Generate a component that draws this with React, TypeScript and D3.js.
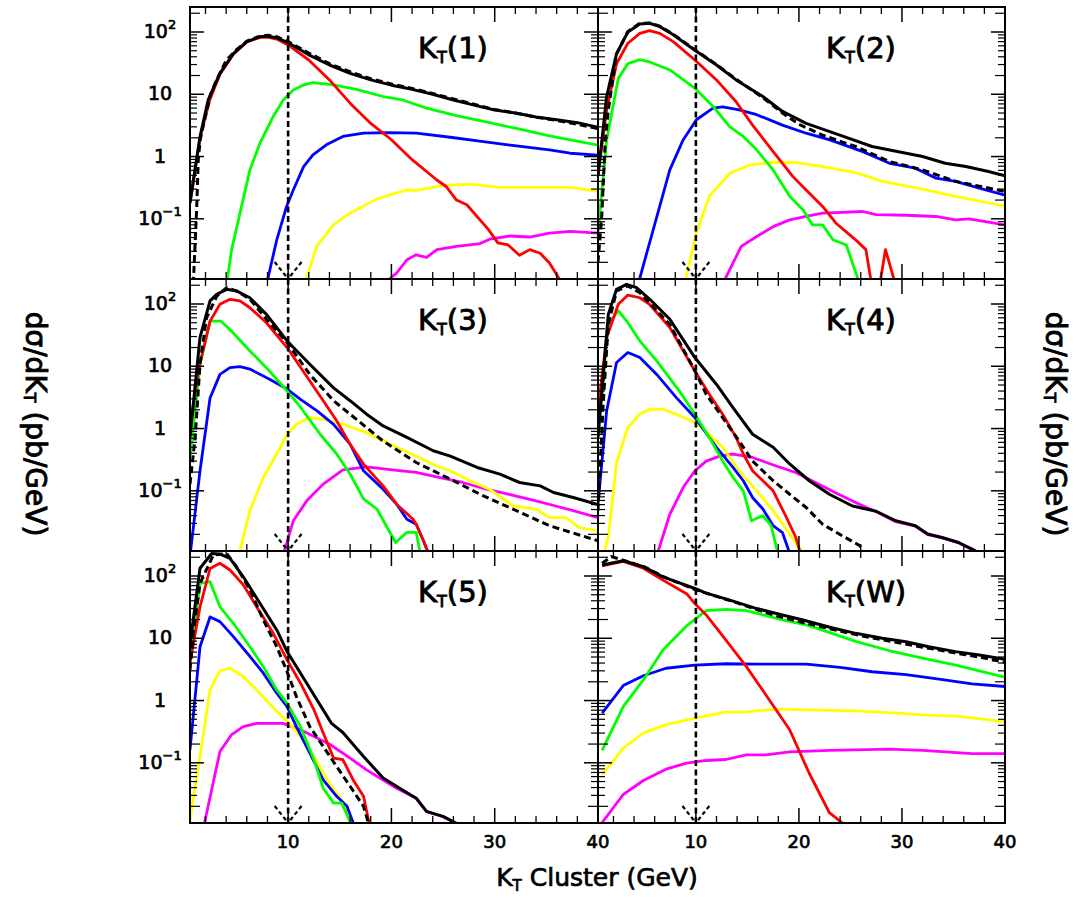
import React from "react";
import * as d3 from "d3";

type Pt = [number, number];

// ---- K_T(1) ----
const kt1Total: Pt[] = [[0.5,0.18],[1.47,2.1],[2.27,8.2],[3.4,21.7],[4.7,45],[6,70],[7.3,84],[7.9,86],[9,80],[10,67],[12,43],[14,29.5],[16,21.7],[18,17],[20,14],[22,12],[24,10],[26,8.1],[28,6.7],[30,5.6],[32,5],[34,4.3],[36,3.9],[38,3.5],[40,2.95]];
const kt1Dashed: Pt[] = [[0.82,0.009],[1.15,0.15],[1.3,0.9],[1.5,1.9],[2,4.5],[2.5,10],[3,16],[4,35],[5,52],[6,71],[7,83],[8,89],[9,83],[10,70],[12,46],[14,31],[16,23],[18,17.8],[20,14.6],[22,12.4],[24,10.3],[26,8.4],[28,6.9],[30,5.7],[32,5],[34,4.3],[36,3.8],[38,3.3],[40,2.8]];
const kt1Red: Pt[] = [[0.5,0.18],[1.47,2.0],[2.4,8],[3.4,21],[4.7,44],[6,69],[7.3,82],[8,83],[9,76],[10,62],[12,35.5],[14,17],[16,7.2],[18,3.4],[20,1.86],[22,0.89],[24.4,0.42],[25.3,0.33],[26.3,0.2],[27.3,0.168],[29.4,0.067],[30.3,0.041],[31.3,0.038],[32.4,0.026],[33.4,0.032],[34.4,0.028],[35.3,0.0195],[36.3,0.0105],[36.8,0.008]];
const kt1Green: Pt[] = [[4.05,0.009],[4.53,0.032],[6.3,0.61],[7.27,1.64],[8.56,4.4],[9.53,8.1],[10.5,11.7],[11.5,14.1],[12.4,15.4],[14.4,14.1],[16.6,12],[19.2,9.2],[21.1,8.1],[23.4,6],[26.4,4.5],[29.5,3.5],[32,2.85],[35.3,2.15],[40,1.52]];
const kt1Blue: Pt[] = [[7.92,0.009],[8.9,0.046],[9.85,0.158],[10.5,0.29],[11.5,0.69],[12.4,1.06],[13.7,1.54],[15.3,2.1],[17.3,2.37],[19.85,2.43],[22.4,2.37],[25.7,2.04],[28.9,1.74],[32.1,1.48],[35.3,1.28],[37.3,1.13],[40,1.05]];
const kt1Yellow: Pt[] = [[11.6,0.009],[12.76,0.036],[14.37,0.08],[15.98,0.123],[18.56,0.207],[19.85,0.243],[21.5,0.29],[22.4,0.285],[25,0.34],[27.6,0.36],[30.5,0.32],[33.7,0.32],[37.3,0.32],[40,0.275]];
const kt1Magenta: Pt[] = [[19.2,0.009],[20.5,0.0134],[21.5,0.022],[22.4,0.0264],[23.4,0.024],[24.4,0.032],[26.3,0.036],[28.6,0.04],[29.5,0.047],[31.5,0.053],[33.4,0.051],[35.3,0.059],[37.3,0.063],[40,0.059]];

// ---- K_T(2) ----
const kt2Total: Pt[] = [[0.5,0.49],[1.34,9.2],[2.3,45],[3.4,100],[4.56,134],[5.5,138],[6.5,122],[7.8,90],[9.9,51],[12,29.5],[13.9,17],[16.5,9.2],[18.4,5.3],[20.7,3.4],[23.9,2.23],[27.1,1.45],[30.4,1.13],[32,1.0],[34.2,0.78],[36.2,0.69],[38.4,0.575],[40,0.49]];
const kt2Dashed: Pt[] = [[0.5,0.02],[0.87,0.115],[1.2,1.7],[1.5,5.6],[2.3,44],[3.4,102],[4.56,138],[5.5,140],[6.5,124],[7.8,92],[9.9,52],[12,30],[13.9,17.5],[16.5,8.8],[18.4,5],[20,3.3],[22.3,2.2],[25.5,1.45],[28.8,0.83],[32,0.61],[35.2,0.4],[40,0.275]];
const kt2Red: Pt[] = [[0.5,0.51],[1.34,5.6],[2.3,31],[3.4,66],[4.56,95],[5.5,105],[6.5,95],[7.8,70],[9.9,35.5],[12,17],[13.9,7.6],[15.5,3.2],[17.5,1.2],[19.4,0.48],[20.7,0.29],[22.3,0.158],[23.6,0.085],[25.5,0.046],[26.5,0.032],[27.3,0.005],[27.6,0.005],[28.4,0.032],[29.8,0.005]];
const kt2Green: Pt[] = [[0.5,0.059],[1.34,1.85],[2.47,18],[3.4,31],[4.56,36],[5.5,33],[7.5,24.5],[9.9,12.5],[11.7,6.3],[13.3,3],[14.6,2.1],[15.9,1.28],[17.5,0.61],[19.1,0.23],[20.4,0.14],[21.3,0.08],[22.3,0.08],[23.3,0.046],[24.6,0.038],[26,0.008]];
const kt2Blue: Pt[] = [[4.4,0.009],[7.47,0.61],[8.76,1.85],[10.05,3.9],[11.66,6],[12.6,6.3],[14.2,5.6],[15.9,4.7],[18.4,3.2],[20.7,2.37],[23,1.85],[26.2,1.2],[28.8,0.78],[31.3,0.65],[33.3,0.45],[35.2,0.4],[37.5,0.31],[40,0.24]];
const kt2Yellow: Pt[] = [[8.9,0.009],[10.05,0.059],[11.3,0.23],[13.3,0.54],[15.2,0.73],[17.5,0.81],[19.7,0.8],[22.3,0.69],[25.5,0.55],[28.1,0.4],[32,0.3],[35.2,0.23],[40,0.16]];
const kt2Magenta: Pt[] = [[12.6,0.009],[14.4,0.036],[15.9,0.052],[17.5,0.075],[19.1,0.096],[20.7,0.109],[22.3,0.123],[26.2,0.131],[27.5,0.117],[30.4,0.114],[33.3,0.109],[35.2,0.096],[36.5,0.1],[40,0.08]];

// ---- K_T(3) ----
const kt3Total: Pt[] = [[0.5,0.73],[1.47,29],[2.44,112],[3.08,143],[4.05,172],[5.0,162],[6.3,126],[7.9,68],[9.9,25.5],[12.1,10.8],[14.4,4.5],[16,2.8],[17.6,1.7],[19.2,1.1],[21.5,0.72],[24.05,0.44],[25.7,0.36],[28.3,0.237],[30.5,0.185],[32.4,0.136],[34.4,0.12],[35.7,0.094],[37.6,0.078],[40,0.06]];
const kt3Dashed: Pt[] = [[0.5,0.128],[1.0,0.72],[1.47,10.8],[2.1,60],[3.1,134],[4.05,183],[5,162],[6.3,119],[7.9,57],[9.9,24],[12.1,7.4],[14.4,2.8],[16,1.7],[19.2,0.63],[22.4,0.285],[25.7,0.154],[28.9,0.083],[32.1,0.048],[35.3,0.0275],[40,0.0158]];
const kt3Red: Pt[] = [[0.5,1.04],[1.3,8.4],[2.44,53],[3.4,99],[4.37,119],[5.34,112],[6.3,87],[7.9,50],[9.9,20],[12.1,5.8],[13.4,2.8],[14.7,1.33],[16,0.56],[17.3,0.268],[18.6,0.154],[19.2,0.12],[20.5,0.061],[22.1,0.035],[22.4,0.029],[23.1,0.0158],[23.8,0.008]];
const kt3Green: Pt[] = [[0.5,0.34],[1.47,10.8],[2.44,53],[3.5,53],[4.37,39],[6.3,17.6],[7.9,9.5],[9.9,4.0],[11.2,2.2],[13.1,0.81],[14.7,0.39],[16,0.186],[17.3,0.074],[18.6,0.051],[20.4,0.0148],[21.5,0.0215],[22.4,0.0215],[22.9,0.008]];
const kt3Blue: Pt[] = [[0.5,0.009],[1.47,0.21],[2.44,3.1],[3.4,7.4],[4.37,9.5],[5.34,9.9],[6.3,9],[8.2,6.2],[9.9,4.3],[11.2,2.95],[12.8,1.92],[14.4,1.17],[16,0.56],[17.3,0.21],[19.2,0.106],[20.5,0.061],[21.5,0.035],[22.4,0.029],[23.1,0.0158],[23.8,0.008]];
const kt3Yellow: Pt[] = [[5.2,0.009],[6.3,0.048],[7.6,0.164],[8.9,0.39],[9.9,0.81],[10.8,1.17],[12.1,1.5],[13.4,1.41],[15.3,1.17],[17.6,0.86],[19.9,0.56],[22.4,0.36],[24.4,0.25],[25.7,0.21],[27.6,0.145],[29.5,0.106],[31.8,0.057],[34,0.051],[35.3,0.037],[36.9,0.037],[38.2,0.0257],[40,0.0229]];
const kt3Magenta: Pt[] = [[9.5,0.009],[10.5,0.033],[11.8,0.069],[13.4,0.128],[15.3,0.217],[17.6,0.243],[20.1,0.217],[22.4,0.197],[24.6,0.164],[26.9,0.136],[29.2,0.106],[31.4,0.088],[34,0.069],[35.9,0.057],[37.6,0.048],[40,0.037]];

// ---- K_T(4) ----
const kt4Total: Pt[] = [[0.5,0.73],[1.5,68],[2.3,172],[3.27,207],[4.24,183],[5.53,119],[7.47,57],[9.9,13.8],[12,5.1],[13.6,2.17],[15.5,0.81],[17.5,0.5],[19.1,0.27],[21,0.145],[22.95,0.088],[25.2,0.057],[27.5,0.047],[29.4,0.033],[31.3,0.0275],[32.5,0.0202],[33.9,0.0178],[35.5,0.0148],[36.8,0.0116],[38.5,0.008]];
const kt4Dashed: Pt[] = [[0.5,0.048],[1.0,2.45],[1.5,47],[2.3,162],[3.4,195],[4.56,152],[7.47,47],[9.9,8.5],[11,3.55],[12.6,1.5],[14.2,0.63],[15.5,0.3],[17.5,0.145],[19.1,0.088],[20.7,0.054],[22.3,0.029],[24.2,0.019],[25.9,0.0132],[26.5,0.009]];
const kt4Red: Pt[] = [[0.5,2.0],[1.34,29],[2.47,99],[3.4,139],[4.56,126],[5.5,99],[7.47,42],[9.9,8.4],[11.3,3.55],[12.6,1.7],[13.9,0.72],[14.6,0.39],[15.5,0.21],[17.5,0.1],[18.8,0.037],[19.7,0.0178],[20.3,0.008]];
const kt4Green: Pt[] = [[0.5,0.73],[1.5,47],[2.47,78],[3.4,50],[4.56,25.5],[6.2,12.2],[8.4,4],[9.9,1.7],[11.3,0.72],[12.6,0.3],[13.6,0.164],[14.6,0.1],[15.4,0.033],[16.5,0.04],[17.3,0.0275],[18.1,0.008]];
const kt4Blue: Pt[] = [[0.5,0.061],[1.34,1.92],[2.3,11.5],[3.4,16.6],[4.56,13.8],[6.2,7.4],[8.1,3.14],[9.9,1.5],[12,0.5],[13.6,0.237],[14.6,0.145],[15.5,0.078],[16.5,0.051],[17.5,0.0275],[18.4,0.0214],[19.3,0.008]];
const kt4Yellow: Pt[] = [[1.0,0.009],[1.5,0.0178],[2.3,0.285],[3.4,1.04],[4.56,1.7],[5.5,2.04],[6.8,2.04],[8.1,1.7],[9.9,1.25],[11.3,0.81],[12.6,0.5],[14.2,0.21],[15.9,0.1],[17.5,0.048],[19.1,0.0202],[20.8,0.008]];
const kt4Magenta: Pt[] = [[6.2,0.009],[7.47,0.042],[8.76,0.113],[9.9,0.209],[11,0.3],[12.3,0.36],[13.6,0.39],[15.5,0.343],[17.8,0.25],[19.7,0.197],[21.6,0.136],[23.5,0.094],[25.5,0.065],[27.5,0.046],[29.4,0.032],[31.3,0.027],[32.5,0.0198],[33.9,0.0175],[35.5,0.0145],[36.8,0.0114],[38.5,0.008]];

// ---- K_T(5) ----
const kt5Total: Pt[] = [[0.5,8],[1.47,133],[2.6,230],[3.4,225],[4.37,192],[5.66,97],[7.27,36.5],[8.9,13.6],[9.9,6.1],[11.2,2.75],[12.8,1.02],[14.2,0.43],[15.3,0.307],[17.3,0.126],[19.2,0.057],[20.8,0.039],[22.4,0.027],[23.4,0.0166],[25,0.0138],[26.3,0.0107],[27,0.008]];
const kt5Dashed: Pt[] = [[0.5,3.1],[0.82,12],[1.47,76],[2.76,217],[4.05,230],[5,141],[6.3,60],[7.6,19.7],[8.9,7.3],[9.9,2.9],[10.8,1.16],[12.1,0.38],[13.4,0.183],[14.7,0.087],[16,0.042],[17.3,0.02],[18,0.008]];
const kt5Red: Pt[] = [[0.5,4],[1.47,32],[2.44,132],[3.4,160],[4.37,125],[5.66,72],[6.95,32],[8.56,12],[9.9,4.5],[11.2,1.9],[12.5,0.71],[13.4,0.3],[14.4,0.119],[15.3,0.112],[16.3,0.053],[17.3,0.029],[18,0.008]];
const kt5Green: Pt[] = [[0.5,4.5],[1.47,76],[2.44,81],[3.4,32],[4.7,17.4],[6.3,7.3],[7.6,3.5],[8.9,1.48],[9.9,0.9],[11.2,0.38],[12.5,0.112],[13.4,0.039],[14.4,0.0225],[15.2,0.0225],[16.4,0.008]];
const kt5Blue: Pt[] = [[0.5,0.162],[1.47,7.3],[2.44,22],[3.4,18.5],[4.7,10.6],[6.3,5.1],[7.6,2.75],[8.9,1.31],[9.9,0.8],[10.8,0.38],[12.1,0.143],[13.4,0.053],[14.7,0.029],[15.7,0.02],[16.6,0.008]];
const kt5Yellow: Pt[] = [[0.5,0.012],[1.47,0.13],[2.44,1.48],[3.4,3.0],[4.37,3.3],[5.66,2.43],[7.27,1.31],[8.9,0.67],[9.9,0.47],[11.2,0.264],[12.5,0.126],[13.8,0.053],[15.4,0.0225],[16.7,0.008]];
const kt5Magenta: Pt[] = [[1.8,0.009],[3.4,0.152],[4.5,0.28],[5.66,0.38],[6.95,0.43],[9.5,0.43],[11.2,0.34],[12.8,0.25],[14.1,0.195],[16,0.119],[17.6,0.077],[19.2,0.053],[20.5,0.039],[22.4,0.027],[23.4,0.0164],[25,0.0136],[26.3,0.0105],[27,0.008]];

// ---- K_T(W) ----
const kt6Total: Pt[] = [[0.9,150],[2.95,176],[4.9,141],[6.8,97],[9.9,63],[11,53],[13.3,41],[15.9,30],[18.4,23.7],[20.4,19.7],[23,15],[25.5,12],[28.1,10],[30.4,8.8],[32.6,7.3],[35.2,6.1],[37.5,5.4],[40,4.6]];
const kt6Dashed: Pt[] = [[0.9,160],[1.8,205],[3,178],[5,140],[7,95],[10,60],[12,47],[14,37],[16,28.5],[18,22.5],[20,18.5],[22,15.5],[24,13],[26,11],[28,9.5],[30,8.3],[32,7.2],[34,6.3],[36,5.5],[38,4.8],[40,4.1]];
const kt6Red: Pt[] = [[0.9,145],[2.95,172],[4.9,133],[6.8,86],[9.1,52],[9.9,36],[11,23.7],[12.9,9.4],[14.9,3.5],[16.8,1.23],[19.1,0.34],[21,0.068],[22.95,0.0159],[25.2,0.008]];
const kt6Green: Pt[] = [[0.9,0.158],[2.95,0.8],[4.9,2.14],[6.8,6.5],[9.1,15.8],[11,27.8],[12.9,29],[14.9,27.8],[18.4,19.7],[20.7,16.4],[23,12.3],[25.5,8.9],[28.8,6.3],[32,4.8],[35.2,3.7],[40,2.37]];
const kt6Blue: Pt[] = [[0.9,0.63],[2.95,1.74],[4.9,2.5],[7.1,3.3],[9.9,3.7],[12.9,3.9],[15.9,3.85],[20.7,3.85],[24,3.4],[27.1,2.9],[30.4,2.6],[33.6,2.2],[36.8,1.85],[40,1.68]];
const kt6Yellow: Pt[] = [[0.9,0.064],[2.95,0.172],[4.9,0.3],[7.1,0.41],[9.9,0.52],[12.9,0.65],[14.9,0.66],[17.8,0.73],[20.7,0.71],[25.5,0.68],[28.8,0.64],[32,0.59],[35.2,0.56],[40,0.46]];
const kt6Magenta: Pt[] = [[0.9,0.011],[2.95,0.031],[4.9,0.052],[7.1,0.079],[9.1,0.099],[11,0.109],[12.9,0.113],[14.9,0.134],[16.8,0.134],[19.1,0.15],[23,0.158],[28.8,0.166],[32,0.158],[36.8,0.14],[40,0.14]];

// ---- axes ----
const panelNames = ["1", "2", "3", "4", "5", "W"];
const xTickValues = [10, 20, 30, 40];
const xTickLabels = ["10", "20", "30", "40"];
const yMajorValues = [0.1, 1, 10, 100];
const yMajorLabels: [string, string][] = [["10", "\u22121"], ["1", ""], ["10", ""], ["10", "2"]];

const X_DOMAIN: [number, number] = [0.5, 40];
const Y_DOMAIN: [number, number] = [0.0108, 252];
const COL_X = [190, 598, 1005];
const ROW_Y = [7, 279, 551, 823];
const FONT = "DejaVu Sans";
const TEXT_STROKE = 0.7;

type Style = { color: string; width: number; dash?: string };
const STYLES: Style[] = [
  { color: "#ff00ff", width: 2.8 },
  { color: "#ffff00", width: 2.8 },
  { color: "#0000ff", width: 2.8 },
  { color: "#00ff00", width: 2.8 },
  { color: "#ff0000", width: 2.8 },
  { color: "#000000", width: 3 },
  { color: "#000000", width: 3, dash: "7 4" },
];

const panelSeries: Pt[][][] = [
  [kt1Magenta, kt1Yellow, kt1Blue, kt1Green, kt1Red, kt1Total, kt1Dashed],
  [kt2Magenta, kt2Yellow, kt2Blue, kt2Green, kt2Red, kt2Total, kt2Dashed],
  [kt3Magenta, kt3Yellow, kt3Blue, kt3Green, kt3Red, kt3Total, kt3Dashed],
  [kt4Magenta, kt4Yellow, kt4Blue, kt4Green, kt4Red, kt4Total, kt4Dashed],
  [kt5Magenta, kt5Yellow, kt5Blue, kt5Green, kt5Red, kt5Total, kt5Dashed],
  [kt6Magenta, kt6Yellow, kt6Blue, kt6Green, kt6Red, kt6Total, kt6Dashed],
];

const yMinorValues: number[] = [];
for (let k = -2; k <= 2; k++) {
  for (let m = 2; m <= 9; m++) {
    const v = m * Math.pow(10, k);
    if (v > Y_DOMAIN[0] && v < Y_DOMAIN[1]) yMinorValues.push(v);
  }
}
const xMinorValues = d3.range(2, 40, 2).filter((v) => v % 10 !== 0);

function Panel({ idx }: { idx: number }) {
  const col = idx % 2;
  const row = Math.floor(idx / 2);
  const x0 = COL_X[col], x1 = COL_X[col + 1];
  const y0 = ROW_Y[row], y1 = ROW_Y[row + 1];
  const x = d3.scaleLinear().domain(X_DOMAIN).range([x0, x1]);
  const y = d3.scaleLog().domain(Y_DOMAIN).range([y1, y0]);
  const line = d3
    .line<Pt>()
    .x((d) => x(d[0]))
    .y((d) => y(Math.max(d[1], 1e-4)));
  const clipId = `clip-${idx}`;
  const cutX = x(10);

  return (
    <g>
      <defs>
        <clipPath id={clipId}>
          <rect x={x0} y={y0} width={x1 - x0} height={y1 - y0} />
        </clipPath>
      </defs>
      <g clipPath={`url(#${clipId})`}>
        {panelSeries[idx].map((s, i) => (
          <path
            key={i}
            d={line(s) || ""}
            fill="none"
            stroke={STYLES[i].color}
            strokeWidth={STYLES[i].width}
            strokeDasharray={STYLES[i].dash}
            strokeLinejoin="round"
          />
        ))}
        {/* cut marker at 10 GeV */}
        <line x1={cutX} x2={cutX} y1={y0} y2={y1} stroke="#000" strokeWidth={2.6} strokeDasharray="6 3.5" />
        <line x1={x(8.7)} y1={y1 - 17} x2={x(9.85)} y2={y1 - 2} stroke="#000" strokeWidth={2.2} strokeDasharray="4 3" />
        <line x1={x(11.3)} y1={y1 - 17} x2={x(10.15)} y2={y1 - 2} stroke="#000" strokeWidth={2.2} strokeDasharray="4 3" />
      </g>
      {/* x ticks, top and bottom */}
      {xMinorValues.map((v) => (
        <g key={`xm${v}`} stroke="#000" strokeWidth={1.3}>
          <line x1={x(v)} x2={x(v)} y1={y1} y2={y1 - 7} />
          <line x1={x(v)} x2={x(v)} y1={y0} y2={y0 + 7} />
        </g>
      ))}
      {xTickValues.map((v) => (
        <g key={`xM${v}`} stroke="#000" strokeWidth={1.5}>
          <line x1={x(v)} x2={x(v)} y1={y1} y2={y1 - 15} />
          <line x1={x(v)} x2={x(v)} y1={y0} y2={y0 + 15} />
        </g>
      ))}
      {/* y ticks, left and right */}
      {yMinorValues.map((v) => {
        const len = Math.abs(v / Math.pow(10, Math.floor(Math.log10(v) + 1e-9)) - 2) < 1e-6 ? 10 : 7;
        return (
          <g key={`ym${v}`} stroke="#000" strokeWidth={1.2}>
            <line x1={x0} x2={x0 + len} y1={y(v)} y2={y(v)} />
            <line x1={x1} x2={x1 - len} y1={y(v)} y2={y(v)} />
          </g>
        );
      })}
      {yMajorValues.map((v) => (
        <g key={`yM${v}`} stroke="#000" strokeWidth={1.5}>
          <line x1={x0} x2={x0 + 14} y1={y(v)} y2={y(v)} />
          <line x1={x1} x2={x1 - 14} y1={y(v)} y2={y(v)} />
        </g>
      ))}
      <rect x={x0} y={y0} width={x1 - x0} height={y1 - y0} fill="none" stroke="#000" strokeWidth={2} />
      {/* y labels on left column */}
      {col === 0 &&
        yMajorValues.map((v, i) => (
          <text key={`yl${v}`} x={x0 - 30} y={y(v) + 6} textAnchor="middle" fontSize={19} fill="#000" stroke="#000" strokeWidth={TEXT_STROKE}>
            {yMajorLabels[i][0]}
            {yMajorLabels[i][1] && (
              <tspan dy={-9} fontSize={13}>
                {yMajorLabels[i][1]}
              </tspan>
            )}
          </text>
        ))}
      {/* x labels on bottom row */}
      {row === 2 &&
        xTickValues.map((v, i) => (
          <text key={`xl${v}`} x={x(v)} y={y1 + 25} textAnchor="middle" fontSize={18} fill="#000" stroke="#000" strokeWidth={TEXT_STROKE}>
            {xTickLabels[i]}
          </text>
        ))}
      <text x={x0 + 228} y={y0 + 51} fontSize={29} fill="#000" stroke="#000" strokeWidth={0.9}>
        K
        <tspan fontSize={16} dy={5}>T</tspan>
        <tspan dy={-5}>({panelNames[idx]})</tspan>
      </text>
    </g>
  );
}

export default function App() {
  return (
    <svg
      width={1089}
      height={898}
      viewBox="0 0 1089 898"
      style={{ position: "absolute", left: 0, top: 0, background: "#fff" }}
      fontFamily={FONT}
    >
      <rect x={0} y={0} width={1089} height={898} fill="#fff" />
      {panelNames.map((_, i) => (
        <Panel key={i} idx={i} />
      ))}
      <text x={597} y={886} textAnchor="middle" fontSize={25} fill="#000" stroke="#000" strokeWidth={TEXT_STROKE}>
        K<tspan fontSize={15} dy={5}>T</tspan>
        <tspan dy={-5}> Cluster (GeV)</tspan>
      </text>
      {[34, 1054].map((cx) => (
        <text
          key={cx}
          transform={`translate(${cx},424) rotate(90)`}
          textAnchor="middle"
          dominantBaseline="middle"
          fontSize={28}
          fill="#000"
          stroke="#000"
          strokeWidth={0.9}
        >
          dσ/dK<tspan fontSize={16} dy={5}>T</tspan>
          <tspan dy={-5}> (pb/GeV)</tspan>
        </text>
      ))}
    </svg>
  );
}
